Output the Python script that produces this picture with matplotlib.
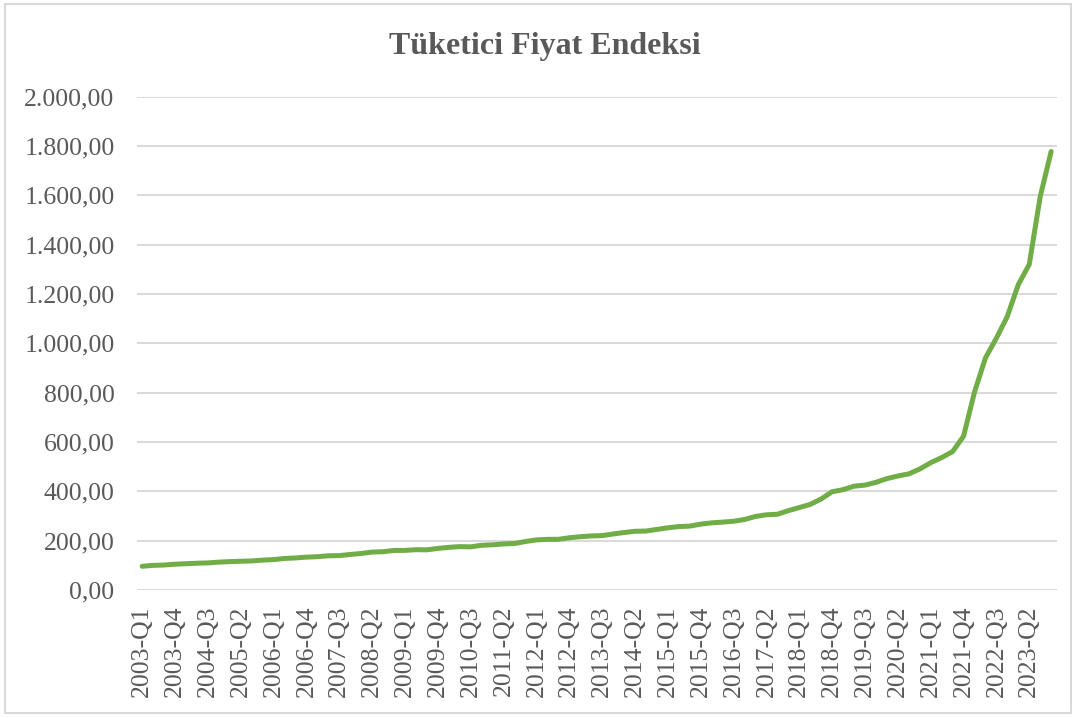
import matplotlib
matplotlib.use("Agg")
import matplotlib.pyplot as plt
from matplotlib.patches import Rectangle
from matplotlib.ticker import FuncFormatter, FixedLocator

# Quarterly consumer price index (2003=100), 2003-Q1 .. 2023-Q4
years = list(range(2003, 2024))
quarters = ["Q1", "Q2", "Q3", "Q4"]
periods = [f"{y}-{q}" for y in years for q in quarters]

cpi = [
    96.1, 99.8, 101.2, 104.5,      # 2003
    106.5, 108.5, 109.7, 112.9,    # 2004
    115.0, 116.4, 117.8, 121.0,    # 2005
    123.2, 127.8, 129.9, 133.2,    # 2006
    135.0, 138.7, 139.3, 144.0,    # 2007
    148.0, 153.7, 155.2, 160.3,    # 2008
    160.5, 163.4, 162.8, 168.5,    # 2009
    172.9, 175.8, 174.9, 181.3,    # 2010
    183.2, 186.7, 188.4, 196.6,    # 2011
    203.0, 205.3, 205.4, 211.7,    # 2012
    216.0, 219.0, 220.5, 227.1,    # 2013
    232.9, 238.1, 238.9, 245.6,    # 2014
    252.2, 257.1, 259.0, 267.0,    # 2015
    272.2, 275.2, 278.6, 285.7,    # 2016
    298.2, 304.9, 307.0, 321.5,    # 2017
    334.2, 347.0, 369.0, 398.3,    # 2018
    406.8, 420.9, 425.2, 436.5,    # 2019
    451.5, 462.1, 470.8, 490.3,    # 2020
    516.0, 536.7, 561.1, 623.5,    # 2021
    802.1, 940.8, 1021.0, 1109.4,  # 2022
    1238.2, 1320.0, 1595.0, 1778.0 # 2023
]

title = "Tüketici Fiyat Endeksi"
y_ticks = list(range(0, 2001, 200))
label_step = 3

TEXT = "#595959"
GRID = "#D9D9D9"
LINE = "#70AD47"
SERIF = ["Liberation Serif", "DejaVu Serif"]

plt.rcParams["font.family"] = SERIF

fig = plt.figure(figsize=(10.76, 7.18), dpi=100)
ax = fig.add_axes([0.127, 0.1783, 0.855, 0.6870])

x = list(range(len(periods)))
ax.plot(x, cpi, color=LINE, linewidth=3.6, solid_capstyle="round",
        solid_joinstyle="round", zorder=3)

ax.set_xlim(-0.5, len(periods) - 0.5)
ax.set_ylim(0, 2000)

ax.yaxis.set_major_locator(FixedLocator(y_ticks))


def tr_fmt(v, _pos):
    s = f"{v:,.2f}"
    return s.replace(",", "X").replace(".", ",").replace("X", ".")


ax.yaxis.set_major_formatter(FuncFormatter(tr_fmt))
ax.grid(axis="y", color=GRID, linewidth=1.4, zorder=0)
ax.set_axisbelow(True)

tick_pos = x[::label_step]
ax.set_xticks(tick_pos)
ax.set_xticklabels([periods[i] for i in tick_pos], rotation=90)

ax.tick_params(axis="y", length=0, pad=16, labelsize=18.5, labelcolor=TEXT)
ax.tick_params(axis="x", length=0, pad=11, labelsize=18.5, labelcolor=TEXT)

for side in ["top", "right", "left", "bottom"]:
    ax.spines[side].set_visible(False)

fig.text(0.506, 0.935, title, ha="center", va="center", fontsize=23,
         fontweight="bold", color=TEXT)

# chart-area border
fig.patches.append(Rectangle((0.005, 0.007), 0.99, 0.987, transform=fig.transFigure,
                             fill=False, edgecolor="#D9D9D9", linewidth=1.5))

fig.savefig("out.png", dpi=100, facecolor="white")
